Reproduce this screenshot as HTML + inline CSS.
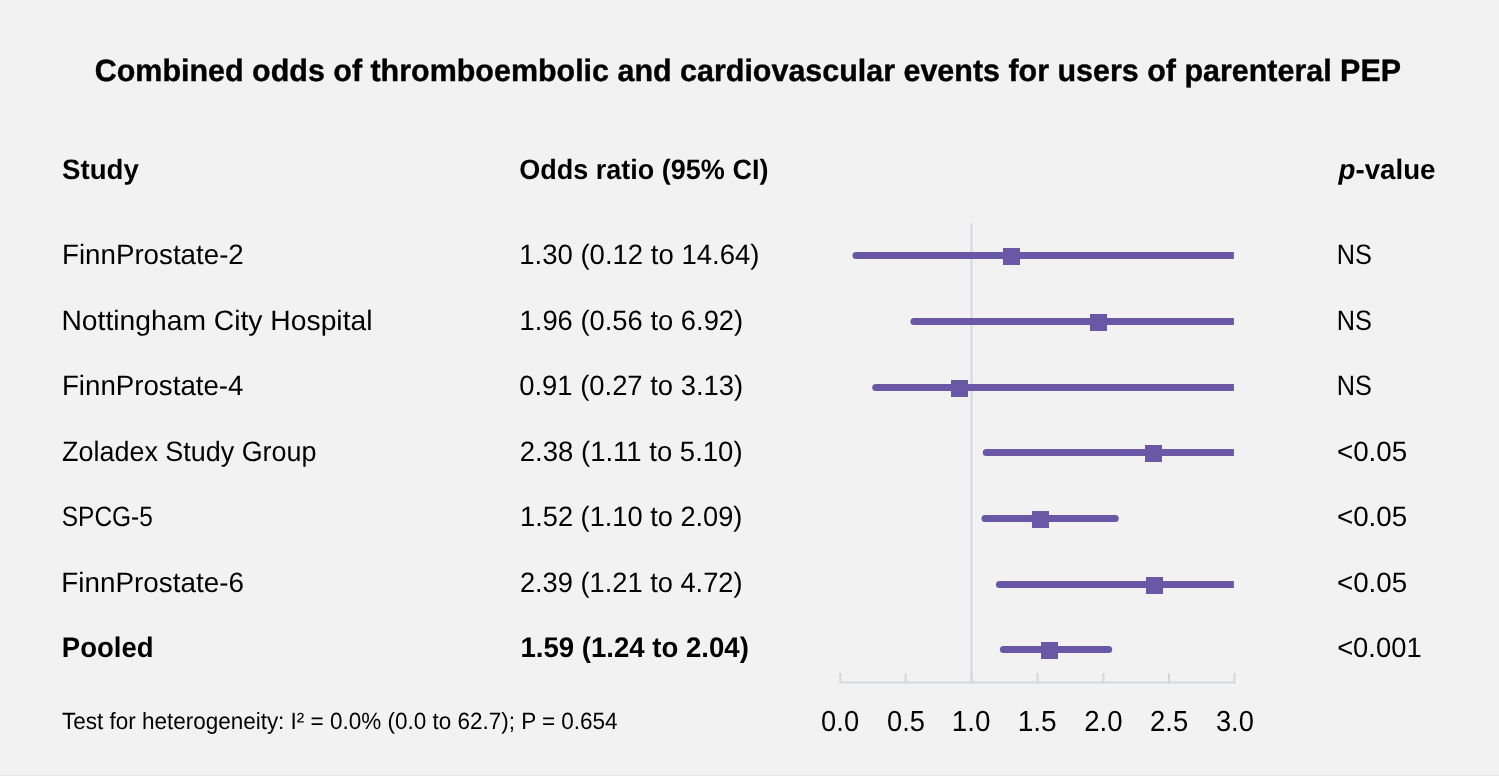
<!DOCTYPE html>
<html><head><meta charset="utf-8"><style>
html,body{margin:0;padding:0;background:#f2f2f2;}
body{width:1499px;height:776px;overflow:hidden;position:relative;}
svg{position:absolute;left:0;top:0;will-change:transform;}
text{font-family:"Liberation Sans",sans-serif;fill:#000;text-rendering:geometricPrecision;}
</style></head><body>
<svg width="1499" height="776" viewBox="0 0 1499 776">
<rect x="0" y="0" width="1499" height="776" fill="#f2f2f2"/>
<rect x="0" y="775" width="1499" height="1" fill="#e3e3e3"/>
<text x="94.78" y="80.80" font-size="30.9" font-weight="bold" textLength="1306.26" lengthAdjust="spacingAndGlyphs" stroke="#000" stroke-width="0.4">Combined odds of thromboembolic and cardiovascular events for users of parenteral PEP</text>
<text x="62.09" y="179.30" font-size="28.1" font-weight="bold" textLength="76.74" lengthAdjust="spacingAndGlyphs">Study</text>
<text x="519.27" y="179.10" font-size="28.1" font-weight="bold" textLength="249.13" lengthAdjust="spacingAndGlyphs">Odds ratio (95% CI)</text>
<text x="1338.56" y="179.20" font-size="28.1" font-weight="bold" textLength="96.94" lengthAdjust="spacingAndGlyphs"><tspan font-style="italic">p</tspan>-value</text>
<text x="61.95" y="728.70" font-size="23.5" textLength="555.67" lengthAdjust="spacingAndGlyphs">Test for heterogeneity: I² = 0.0% (0.0 to 62.7); P = 0.654</text>
<text x="61.97" y="264.00" font-size="28.1" textLength="181.83" lengthAdjust="spacingAndGlyphs">FinnProstate-2</text>
<text x="519.26" y="264.00" font-size="28.1" textLength="240.19" lengthAdjust="spacingAndGlyphs">1.30 (0.12 to 14.64)</text>
<text x="1336.70" y="264.00" font-size="28.1" textLength="35.11" lengthAdjust="spacingAndGlyphs">NS</text>
<text x="61.40" y="329.70" font-size="28.1" textLength="311.10" lengthAdjust="spacingAndGlyphs">Nottingham City Hospital</text>
<text x="519.58" y="329.70" font-size="28.1" textLength="223.60" lengthAdjust="spacingAndGlyphs">1.96 (0.56 to 6.92)</text>
<text x="1336.70" y="329.70" font-size="28.1" textLength="35.11" lengthAdjust="spacingAndGlyphs">NS</text>
<text x="61.96" y="395.00" font-size="28.1" textLength="181.51" lengthAdjust="spacingAndGlyphs">FinnProstate-4</text>
<text x="519.19" y="395.00" font-size="28.1" textLength="223.98" lengthAdjust="spacingAndGlyphs">0.91 (0.27 to 3.13)</text>
<text x="1336.70" y="395.00" font-size="28.1" textLength="35.11" lengthAdjust="spacingAndGlyphs">NS</text>
<text x="62.11" y="460.60" font-size="28.1" textLength="254.32" lengthAdjust="spacingAndGlyphs">Zoladex Study Group</text>
<text x="519.80" y="460.60" font-size="28.1" textLength="222.78" lengthAdjust="spacingAndGlyphs">2.38 (1.11 to 5.10)</text>
<text x="1336.93" y="460.60" font-size="28.1" textLength="70.31" lengthAdjust="spacingAndGlyphs">&lt;0.05</text>
<text x="61.76" y="526.10" font-size="28.1" textLength="91.09" lengthAdjust="spacingAndGlyphs">SPCG-5</text>
<text x="520.10" y="526.10" font-size="28.1" textLength="222.31" lengthAdjust="spacingAndGlyphs">1.52 (1.10 to 2.09)</text>
<text x="1336.93" y="526.10" font-size="28.1" textLength="70.31" lengthAdjust="spacingAndGlyphs">&lt;0.05</text>
<text x="61.37" y="592.30" font-size="28.1" textLength="182.52" lengthAdjust="spacingAndGlyphs">FinnProstate-6</text>
<text x="519.92" y="592.30" font-size="28.1" textLength="222.59" lengthAdjust="spacingAndGlyphs">2.39 (1.21 to 4.72)</text>
<text x="1336.93" y="592.30" font-size="28.1" textLength="70.31" lengthAdjust="spacingAndGlyphs">&lt;0.05</text>
<text x="61.85" y="657.00" font-size="28.4" font-weight="bold" textLength="91.76" lengthAdjust="spacingAndGlyphs">Pooled</text>
<text x="520.39" y="657.00" font-size="28.4" font-weight="bold" textLength="228.48" lengthAdjust="spacingAndGlyphs">1.59 (1.24 to 2.04)</text>
<text x="1337.15" y="657.00" font-size="28.1" textLength="84.47" lengthAdjust="spacingAndGlyphs">&lt;0.001</text>
<text x="821.11" y="731.30" font-size="29.0" textLength="37.98" lengthAdjust="spacingAndGlyphs" fill="#231f20">0.0</text>
<text x="886.98" y="731.30" font-size="29.0" textLength="37.93" lengthAdjust="spacingAndGlyphs" fill="#231f20">0.5</text>
<text x="951.78" y="731.30" font-size="29.0" textLength="38.69" lengthAdjust="spacingAndGlyphs" fill="#231f20">1.0</text>
<text x="1017.66" y="731.30" font-size="29.0" textLength="39.11" lengthAdjust="spacingAndGlyphs" fill="#231f20">1.5</text>
<text x="1084.17" y="731.30" font-size="29.0" textLength="38.31" lengthAdjust="spacingAndGlyphs" fill="#231f20">2.0</text>
<text x="1150.12" y="731.30" font-size="29.0" textLength="38.14" lengthAdjust="spacingAndGlyphs" fill="#231f20">2.5</text>
<text x="1215.95" y="731.30" font-size="29.0" textLength="37.94" lengthAdjust="spacingAndGlyphs" fill="#231f20">3.0</text>
<line x1="971.5" y1="224" x2="971.5" y2="682.4" stroke="#d3d7dd" stroke-width="2" stroke-linecap="round"/>
<path d="M840.3 674.1 V682.4 H1234.5 V674.1" fill="none" stroke="#d3d7dd" stroke-width="2" stroke-linecap="round" stroke-linejoin="round"/>
<line x1="905.6" y1="674.1" x2="905.6" y2="682.4" stroke="#d3d7dd" stroke-width="2" stroke-linecap="round"/>
<line x1="971.5" y1="674.1" x2="971.5" y2="682.4" stroke="#d3d7dd" stroke-width="2" stroke-linecap="round"/>
<line x1="1037.5" y1="674.1" x2="1037.5" y2="682.4" stroke="#d3d7dd" stroke-width="2" stroke-linecap="round"/>
<line x1="1103.5" y1="674.1" x2="1103.5" y2="682.4" stroke="#d3d7dd" stroke-width="2" stroke-linecap="round"/>
<line x1="1169.0" y1="674.1" x2="1169.0" y2="682.4" stroke="#d3d7dd" stroke-width="2" stroke-linecap="round"/>
<path d="M855.99 255.50 H1233.90" stroke="#6a58a6" stroke-width="7"/>
<circle cx="855.99" cy="255.50" r="3.50" fill="#6a58a6"/>
<rect x="1003" y="248.0" width="17" height="17" fill="#6a58a6"/>
<path d="M913.90 321.50 H1233.90" stroke="#6a58a6" stroke-width="7"/>
<circle cx="913.90" cy="321.50" r="3.50" fill="#6a58a6"/>
<rect x="1090" y="314.0" width="17" height="17" fill="#6a58a6"/>
<path d="M875.73 387.50 H1233.90" stroke="#6a58a6" stroke-width="7"/>
<circle cx="875.73" cy="387.50" r="3.50" fill="#6a58a6"/>
<rect x="951" y="380.0" width="17" height="17" fill="#6a58a6"/>
<path d="M986.28 452.50 H1233.90" stroke="#6a58a6" stroke-width="7"/>
<circle cx="986.28" cy="452.50" r="3.50" fill="#6a58a6"/>
<rect x="1145" y="445.0" width="17" height="17" fill="#6a58a6"/>
<path d="M984.96 518.50 H1115.24" stroke="#6a58a6" stroke-width="7"/>
<circle cx="984.96" cy="518.50" r="3.50" fill="#6a58a6"/>
<circle cx="1115.24" cy="518.50" r="3.50" fill="#6a58a6"/>
<rect x="1032" y="511.0" width="17" height="17" fill="#6a58a6"/>
<path d="M999.44 584.50 H1233.90" stroke="#6a58a6" stroke-width="7"/>
<circle cx="999.44" cy="584.50" r="3.50" fill="#6a58a6"/>
<rect x="1146" y="577.0" width="17" height="17" fill="#6a58a6"/>
<path d="M1003.38 649.50 H1108.66" stroke="#6a58a6" stroke-width="7"/>
<circle cx="1003.38" cy="649.50" r="3.50" fill="#6a58a6"/>
<circle cx="1108.66" cy="649.50" r="3.50" fill="#6a58a6"/>
<rect x="1041" y="642.0" width="17" height="17" fill="#6a58a6"/>
</svg>
</body></html>
